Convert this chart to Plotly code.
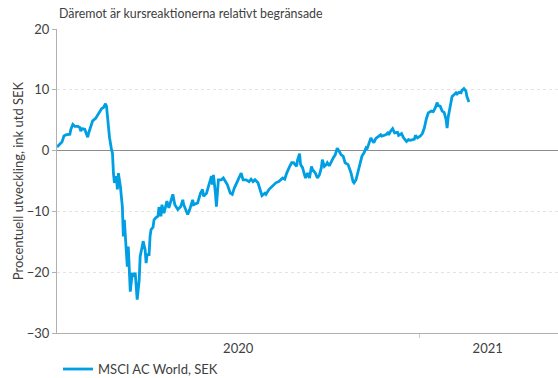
import plotly.graph_objects as go

title_text = "Däremot är kursreaktionerna relativt begränsade"
y_title = "Procentuell utveckling, ink utd SEK"
series_name = "MSCI AC World, SEK"

dates = [
    "2020-01-01", "2020-01-03", "2020-01-06", "2020-01-08", "2020-01-10", "2020-01-14",
    "2020-01-15", "2020-01-17", "2020-01-19", "2020-01-22", "2020-01-24", "2020-01-25",
    "2020-01-26", "2020-01-29", "2020-01-31", "2020-02-01", "2020-02-02", "2020-02-05",
    "2020-02-06", "2020-02-09", "2020-02-11", "2020-02-13", "2020-02-15", "2020-02-17",
    "2020-02-19", "2020-02-20", "2020-02-21", "2020-02-23", "2020-02-25", "2020-02-26",
    "2020-02-27", "2020-02-28", "2020-03-01", "2020-03-02", "2020-03-03", "2020-03-05",
    "2020-03-07", "2020-03-08", "2020-03-09", "2020-03-10", "2020-03-12", "2020-03-13",
    "2020-03-14", "2020-03-15", "2020-03-17", "2020-03-18", "2020-03-20", "2020-03-21",
    "2020-03-22", "2020-03-24", "2020-03-25", "2020-03-27", "2020-03-28", "2020-03-30",
    "2020-03-31", "2020-04-01", "2020-04-03", "2020-04-04", "2020-04-05", "2020-04-07",
    "2020-04-08", "2020-04-10", "2020-04-12", "2020-04-13", "2020-04-15", "2020-04-16",
    "2020-04-18", "2020-04-20", "2020-04-21", "2020-04-23", "2020-04-25", "2020-04-27",
    "2020-04-29", "2020-05-02", "2020-05-05", "2020-05-07", "2020-05-08", "2020-05-12",
    "2020-05-14", "2020-05-17", "2020-05-18", "2020-05-22", "2020-05-25", "2020-05-27",
    "2020-05-28", "2020-05-31", "2020-06-02", "2020-06-05", "2020-06-06", "2020-06-07",
    "2020-06-09", "2020-06-10", "2020-06-12", "2020-06-15", "2020-06-17", "2020-06-19",
    "2020-06-21", "2020-06-24", "2020-06-26", "2020-06-28", "2020-07-01", "2020-07-04",
    "2020-07-05", "2020-07-07", "2020-07-10", "2020-07-13", "2020-07-15", "2020-07-17",
    "2020-07-19", "2020-07-22", "2020-07-24", "2020-07-26", "2020-07-29", "2020-07-30",
    "2020-08-02", "2020-08-05", "2020-08-09", "2020-08-12", "2020-08-14", "2020-08-16",
    "2020-08-18", "2020-08-20", "2020-08-23", "2020-08-25", "2020-08-27", "2020-08-30",
    "2020-08-31", "2020-09-02", "2020-09-03", "2020-09-05", "2020-09-07", "2020-09-08",
    "2020-09-10", "2020-09-12", "2020-09-14", "2020-09-15", "2020-09-18", "2020-09-20",
    "2020-09-22", "2020-09-24", "2020-09-25", "2020-09-27", "2020-09-29", "2020-09-30",
    "2020-10-02", "2020-10-04", "2020-10-06", "2020-10-08", "2020-10-10", "2020-10-12",
    "2020-10-14", "2020-10-16", "2020-10-18", "2020-10-21", "2020-10-22", "2020-10-24",
    "2020-10-26", "2020-10-27", "2020-10-29", "2020-10-31", "2020-11-01", "2020-11-04",
    "2020-11-06", "2020-11-08", "2020-11-09", "2020-11-11", "2020-11-13", "2020-11-14",
    "2020-11-16", "2020-11-18", "2020-11-21", "2020-11-23", "2020-11-24", "2020-11-28",
    "2020-11-30", "2020-12-01", "2020-12-03", "2020-12-05", "2020-12-07", "2020-12-10",
    "2020-12-11", "2020-12-14", "2020-12-16", "2020-12-19", "2020-12-21", "2020-12-23",
    "2020-12-27", "2020-12-28", "2020-12-30", "2021-01-02", "2021-01-04", "2021-01-06",
    "2021-01-08", "2021-01-10", "2021-01-13", "2021-01-15", "2021-01-17", "2021-01-19",
    "2021-01-20", "2021-01-22", "2021-01-24", "2021-01-26", "2021-01-28", "2021-01-29",
    "2021-01-30", "2021-02-01", "2021-02-03", "2021-02-05", "2021-02-07", "2021-02-08",
    "2021-02-10", "2021-02-12", "2021-02-13", "2021-02-15", "2021-02-17", "2021-02-18",
    "2021-02-20",
]

values = [
    0.6, 0.9, 1.4, 2.4, 2.6, 2.7,
    3.5, 4.3, 4.0, 4.0, 3.8, 3.2,
    3.6, 3.5, 2.4, 2.2, 2.9, 4.3,
    4.9, 5.3, 5.8, 6.5, 6.9, 7.1,
    7.7, 7.3, 5.4, 2.2, 0.2, -0.4,
    -3.7, -5.3, -4.2, -6.4, -3.7, -5.9,
    -9.2, -14.1, -11.4, -14.1, -19.1, -15.8,
    -20.1, -23.2, -20.1, -20.7, -20.1, -21.8,
    -24.5, -21.3, -17.4, -15.8, -14.9, -16.3,
    -18.5, -17.1, -17.1, -14.1, -13.0, -12.6,
    -11.4, -11.0, -10.8, -9.3, -10.8, -8.9,
    -10.3, -9.0, -8.3, -9.4, -8.3, -7.2,
    -8.9, -9.7, -9.2, -8.1, -8.9, -10.5,
    -9.7, -8.1, -8.9, -8.6, -7.0, -6.4,
    -7.5, -7.0, -5.9, -4.2, -5.6, -4.0,
    -7.0, -9.2, -4.8, -4.8, -4.5, -5.1,
    -5.6, -7.0, -7.2, -6.2, -5.1, -4.0,
    -3.7, -4.8, -4.8, -5.1, -4.7, -5.1,
    -4.8, -5.3, -6.4, -7.4, -7.0, -7.2,
    -6.4, -5.9, -5.3, -5.1, -4.8, -4.5,
    -4.7, -3.7, -2.6, -2.0, -2.0, -2.6,
    -1.5, -0.5, -2.3, -2.8, -4.0, -4.5,
    -3.7, -4.5, -2.6, -3.1, -3.7, -4.5,
    -4.0, -2.8, -1.5, -2.6, -2.3, -2.0,
    -2.5, -1.7, -1.2, -0.7, 0.4, -0.1,
    -0.7, -0.9, -2.0, -2.3, -2.8, -3.7,
    -5.1, -5.3, -4.8, -3.5, -2.8, -0.9,
    -0.4, 0.4, 0.2, 1.0, 2.1, 1.8,
    1.3, 2.0, 2.4, 2.6, 2.4, 2.6,
    2.9, 2.6, 3.2, 3.6, 2.9, 3.0,
    2.5, 2.8, 2.1, 1.5, 1.8, 1.7,
    1.9, 2.5, 2.1, 2.4, 2.8, 3.7,
    5.2, 6.2, 6.5, 6.4, 7.0, 7.9,
    7.4, 7.3, 6.5, 6.3, 5.1, 3.7,
    5.4, 7.3, 8.9, 9.2, 9.5, 9.3,
    9.6, 9.5, 9.9, 10.2, 9.8, 8.9,
    8.0,
]

x_label_pos = ["2020-07-02", "2021-03-11"]
x_labels = ["2020", "2021"]
year_boundaries = ["2021-01-01"]
y_ticks = [-30, -20, -10, 0, 10, 20]

FONT = "Lato, 'Open Sans', sans-serif"
TXT = "#404040"

fig = go.Figure()
fig.add_trace(go.Scatter(
    x=dates, y=values, mode="lines", name=series_name,
    line=dict(color="#009FE3", width=2.8),
))

fig.update_layout(
    width=558, height=378,
    margin=dict(l=57, r=0, t=29, b=45, autoexpand=False),
    paper_bgcolor="white", plot_bgcolor="white",
    font=dict(family=FONT, size=13, color=TXT),
    showlegend=True,
    legend=dict(orientation="h", x=0.002, xanchor="left", y=-0.168, yanchor="bottom",
                font=dict(size=13, color=TXT), bgcolor="rgba(0,0,0,0)"),
    annotations=[dict(text=title_text, xref="paper", yref="paper", x=0, y=1,
                      xanchor="left", yanchor="bottom", yshift=6, showarrow=False,
                      font=dict(size=12.4, color=TXT))],
)

fig.update_xaxes(
    type="date", range=["2020-01-01", "2021-05-21"],
    tickmode="array", tickvals=x_label_pos, ticktext=x_labels,
    ticks="", showgrid=False, zeroline=False,
    showline=True, linecolor="#b0b0b0", linewidth=1,
    tickfont=dict(size=13, color=TXT), ticklabelstandoff=3,
    minor=dict(tickmode="array", tickvals=year_boundaries, ticks="outside",
               ticklen=4, tickcolor="#c8c8c8", tickwidth=1, showgrid=False),
)

fig.update_yaxes(
    range=[-30, 20], tickmode="array", tickvals=y_ticks,
    ticks="outside", ticklen=4, tickcolor="#b0b0b0",
    showline=True, linecolor="#b0b0b0", linewidth=1,
    showgrid=True, gridcolor="#e3e3e3", griddash="dot", gridwidth=1,
    zeroline=True, zerolinecolor="#8c8c8c", zerolinewidth=1.3,
    tickfont=dict(size=13, color=TXT),
    title=dict(text=y_title, font=dict(size=13, color=TXT), standoff=0),
)

fig.write_html("out.html")
